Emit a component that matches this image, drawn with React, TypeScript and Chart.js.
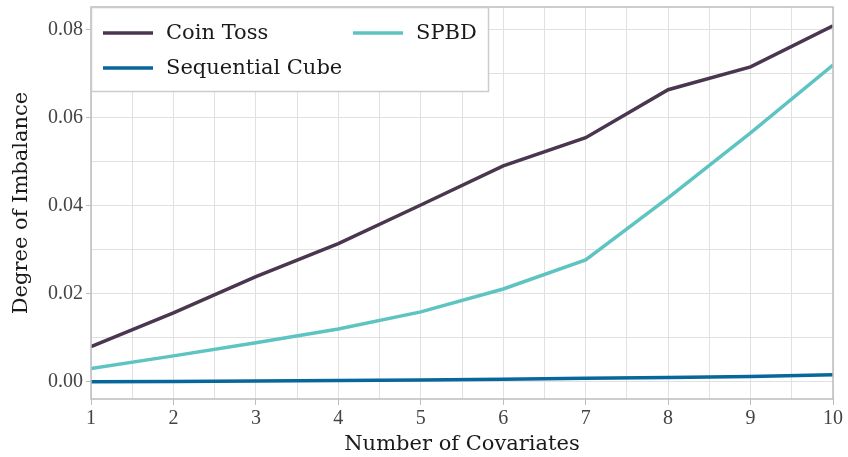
import React, { useEffect, useRef } from "react";
import { Chart, registerables } from "chart.js";

Chart.register(...registerables);

const covariates = [1, 2, 3, 4, 5, 6, 7, 8, 9, 10];
const coinToss = [0.008, 0.0157, 0.0239, 0.0314, 0.0402, 0.0491, 0.0555, 0.0664, 0.0716, 0.0809];
const sequentialCube = [0.0, 0.0001, 0.0002, 0.0003, 0.0004, 0.0006, 0.0008, 0.001, 0.0012, 0.0016];
const spbd = [0.003, 0.0059, 0.0089, 0.012, 0.0159, 0.0211, 0.0277, 0.0418, 0.0566, 0.072];

const seriesNames = ["Coin Toss", "Sequential Cube", "SPBD"];
const seriesColors = ["#4b3650", "#06689a", "#5ec4c1"];

const TEXT_FONT = "'DejaVu Serif', serif";
const TICK_FONT = "'Liberation Serif', serif";
const GRID = "#e1e1e1";
const FRAME = "#bdbdbd";

const framePlugin = {
  id: "frameAndLegend",
  afterDraw(chart: any) {
    const { ctx, chartArea } = chart;
    ctx.save();
    ctx.strokeStyle = FRAME;
    ctx.lineWidth = 1.5;
    ctx.strokeRect(chartArea.left, chartArea.top, chartArea.right - chartArea.left, chartArea.bottom - chartArea.top);
    const bx = chartArea.left;
    const by = chartArea.top;
    const bw = 397;
    const bh = 84;
    ctx.fillStyle = "rgba(255,255,255,0.95)";
    ctx.fillRect(bx, by, bw, bh);
    ctx.strokeStyle = "#cccccc";
    ctx.lineWidth = 1.5;
    ctx.strokeRect(bx + 0.5, by + 0.5, bw, bh);
    const items = chart.data.datasets.map((d: any) => ({ label: d.label, color: d.borderColor }));
    const pos = [
      { x: bx + 12, y: by + 26 },
      { x: bx + 12, y: by + 61 },
      { x: bx + 262, y: by + 26 },
    ];
    ctx.font = `21px ${TEXT_FONT}`;
    ctx.textBaseline = "middle";
    ctx.textAlign = "left";
    items.forEach((it: any, i: number) => {
      const p = pos[i];
      ctx.strokeStyle = it.color;
      ctx.lineWidth = 3.5;
      ctx.beginPath();
      ctx.moveTo(p.x, p.y);
      ctx.lineTo(p.x + 50, p.y);
      ctx.stroke();
      ctx.fillStyle = "#1a1a1a";
      ctx.fillText(it.label, p.x + 63, p.y + 1);
    });
    ctx.restore();
  },
};

export default function App() {
  const ref = useRef<HTMLCanvasElement | null>(null);

  useEffect(() => {
    document.body.style.margin = "0";
    const canvas = ref.current;
    if (!canvas) return;
    const data = [coinToss, sequentialCube, spbd];
    const chart = new Chart(canvas, {
      type: "line",
      data: {
        datasets: seriesNames.map((name, i) => ({
          label: name,
          data: covariates.map((c, j) => ({ x: c, y: data[i][j] })),
          borderColor: seriesColors[i],
          backgroundColor: seriesColors[i],
          borderWidth: 3.5,
          pointRadius: 0,
          tension: 0,
        })),
      },
      options: {
        animation: false,
        responsive: false,
        maintainAspectRatio: false,
        layout: { padding: { left: 0, right: 15, top: 7, bottom: 0 } },
        plugins: {
          legend: { display: false },
          tooltip: { enabled: false },
        },
        scales: {
          x: {
            type: "linear",
            min: 1,
            max: 10,
            afterFit(scale: any) {
              scale.height = 58;
              scale.paddingLeft = 0;
              scale.paddingRight = 0;
            },
            afterBuildTicks(scale: any) {
              const t = [];
              for (let v = 1; v <= 10.001; v += 0.5) t.push({ value: Math.round(v * 10) / 10 });
              scale.ticks = t;
            },
            grid: {
              color: GRID,
              lineWidth: 1,
              drawTicks: true,
              tickLength: 6,
              tickColor: (ctx: any) => (ctx.tick && Number.isInteger(ctx.tick.value) ? FRAME : "rgba(0,0,0,0)"),
            },
            border: { display: false },
            ticks: {
              autoSkip: false,
              maxRotation: 0,
              padding: 2,
              color: "#444",
              font: { family: TICK_FONT, size: 20 },
              callback: (v: any) => (Number.isInteger(v) ? String(v) : ""),
            },
            title: {
              display: true,
              text: "Number of Covariates",
              color: "#1a1a1a",
              font: { family: TEXT_FONT, size: 21 },
              padding: { top: 0, bottom: 0 },
            },
          },
          y: {
            type: "linear",
            min: -0.0039,
            max: 0.0852,
            afterFit(scale: any) {
              scale.width = 91;
              scale.paddingTop = 0;
              scale.paddingBottom = 0;
            },
            afterBuildTicks(scale: any) {
              const t = [];
              for (let k = 0; k <= 8; k++) t.push({ value: k / 100 });
              scale.ticks = t;
            },
            grid: {
              color: GRID,
              lineWidth: 1,
              drawTicks: true,
              tickLength: 5,
              tickColor: (ctx: any) => (ctx.tick && Math.round(ctx.tick.value * 100) % 2 === 0 ? FRAME : "rgba(0,0,0,0)"),
            },
            border: { display: false },
            ticks: {
              autoSkip: false,
              padding: 3,
              color: "#444",
              font: { family: TICK_FONT, size: 20 },
              callback: (v: any) => (Math.round(v * 100) % 2 === 0 ? Number(v).toFixed(2) : ""),
            },
            title: {
              display: true,
              text: "Degree of Imbalance",
              color: "#1a1a1a",
              font: { family: TEXT_FONT, size: 21 },
              padding: { top: 9, bottom: 0 },
            },
          },
        },
      },
      plugins: [framePlugin],
    } as any);
    return () => chart.destroy();
  }, []);

  return (
    <div style={{ position: "absolute", left: 0, top: 0, width: 848, height: 457 }}>
      <canvas ref={ref} width={848} height={457} style={{ width: 848, height: 457 }} />
    </div>
  );
}
